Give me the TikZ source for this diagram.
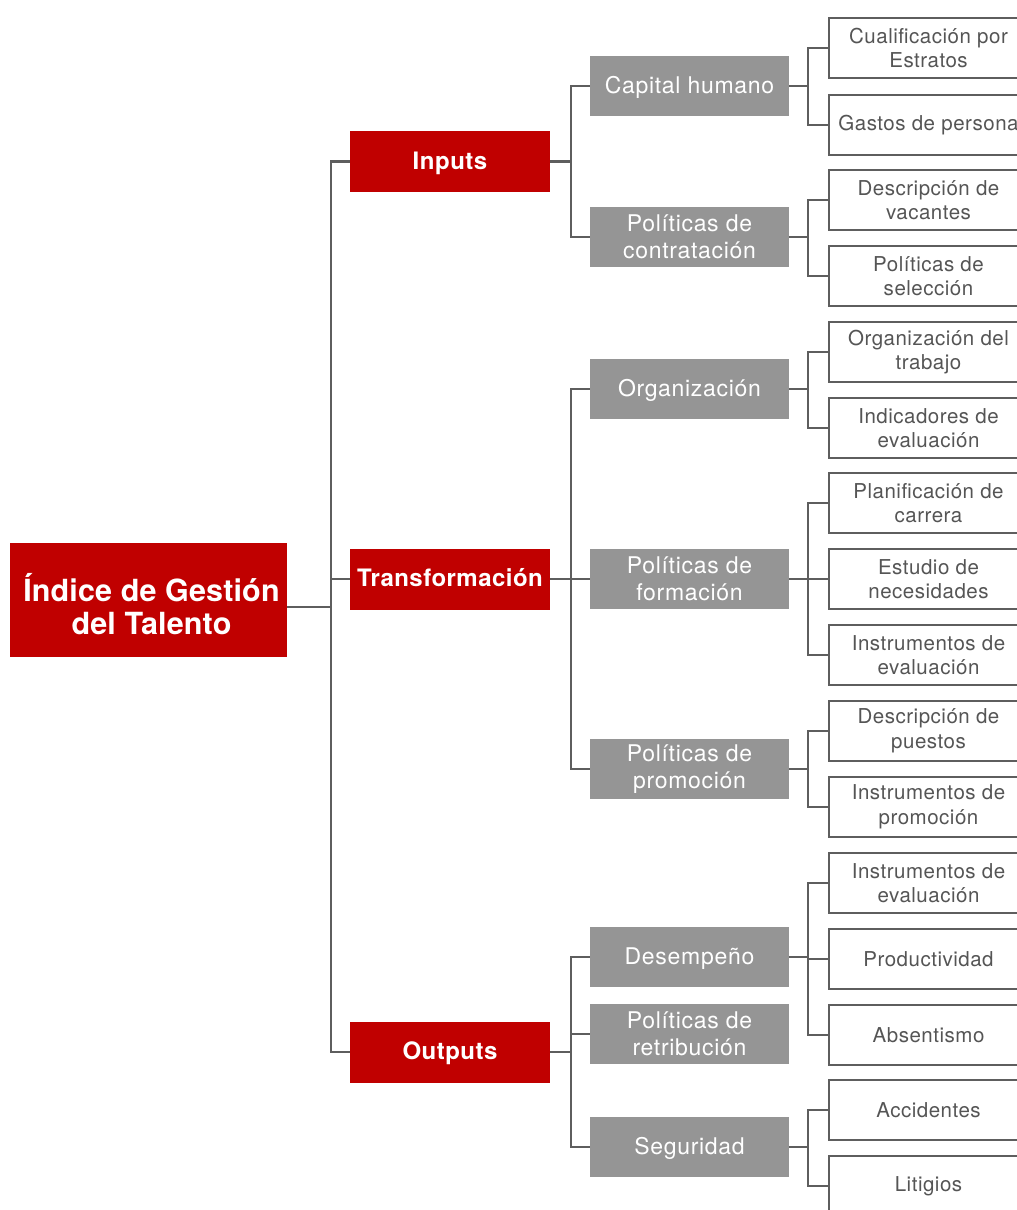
\documentclass[tikz,border=0pt]{standalone}
\usepackage{fontspec}
\setmainfont{TeX Gyre Heros}
\newfontfamily\leaffont[LetterSpace=2.5]{TeX Gyre Heros}
\newfontfamily\grayfont[LetterSpace=3]{TeX Gyre Heros}
\newfontfamily\redfont[LetterSpace=2]{TeX Gyre Heros}
\newfontfamily\rootfont[LetterSpace=0.5]{TeX Gyre Heros}
\definecolor{tred}{HTML}{C00000}
\definecolor{tgray}{HTML}{959595}
\definecolor{tline}{HTML}{5E5E5E}
\definecolor{ttext}{HTML}{555555}
\tikzset{
  rootbox/.style={fill=tred, text=white, minimum width=277pt, minimum height=114pt, inner sep=0pt, font=\rootfont\fontsize{30.5}{33}\selectfont\bfseries},
  lvlone/.style={fill=tred, text=white, minimum width=200pt, minimum height=61pt, inner sep=0pt, align=center, text height=18pt, text depth=3pt, font=\redfont\fontsize{24}{28}\selectfont\bfseries},
  lvltwo/.style={fill=tgray, text=white, minimum width=199pt, minimum height=60pt, inner sep=0pt, align=center, font=\grayfont\fontsize{23}{26.5}\selectfont},
  oneline/.style={text height=17pt, text depth=3pt},
  leafbox/.style={draw=tline, line width=2pt, fill=white, text=ttext, minimum width=199pt, minimum height=60pt, inner sep=0pt, align=center, font=\leaffont\fontsize{20.5}{24.5}\selectfont},
  conn/.style={draw=tline, line width=2.4pt},
  leafconn/.style={draw=tline, line width=2pt},
}
\begin{document}
\begin{tikzpicture}[x=1pt,y=-1pt]
\useasboundingbox (0,0) rectangle (1017,1210);
\clip (0,0) rectangle (1017,1210);
% root
\node[rootbox] (root) at (148.5,600) {\hspace{6pt}\raisebox{-15.5pt}[0pt][0pt]{\begin{tabular}{@{}c@{}}Índice de Gestión\\del Talento\end{tabular}}};
% level one
\node[lvlone] (inp) at (450,161.5) {Inputs};
\node[lvlone] (tra) at (450,579) {Transformación};
\node[lvlone] (out) at (450,1052) {Outputs};
% level two
\node[lvltwo, oneline] (cap) at (689.5,86) {Capital humano};
\node[lvltwo] (con) at (689.5,237) {Políticas de\\contratación};
\node[lvltwo, oneline] (org) at (689.5,389) {Organización};
\node[lvltwo] (for) at (689.5,579) {Políticas de\\formación};
\node[lvltwo] (pro) at (689.5,769) {Políticas de\\promoción};
\node[lvltwo, oneline] (des) at (689.5,957) {Desempeño};
\node[lvltwo] (ret) at (689.5,1034) {Políticas de\\retribución};
\node[lvltwo, oneline] (seg) at (689.5,1147) {Seguridad};
% leaves
\node[leafbox] (l1) at (928.5,48) {Cualificación por\\Estratos};
\node[leafbox] (l2) at (928.5,125) {Gastos de persona};
\node[leafbox] (l3) at (928.5,200) {Descripción de\\vacantes};
\node[leafbox] (l4) at (928.5,276) {Políticas de\\selección};
\node[leafbox] (l5) at (928.5,352) {Organización del\\trabajo};
\node[leafbox] (l6) at (928.5,428) {Indicadores de\\evaluación};
\node[leafbox] (l7) at (928.5,503) {Planificación de\\carrera};
\node[leafbox] (l8) at (928.5,579) {Estudio de\\necesidades};
\node[leafbox] (l9) at (928.5,655) {Instrumentos de\\evaluación};
\node[leafbox] (l10) at (928.5,731) {Descripción de\\puestos};
\node[leafbox] (l11) at (928.5,807) {Instrumentos de\\promoción};
\node[leafbox] (l12) at (928.5,883) {Instrumentos de\\evaluación};
\node[leafbox] (l13) at (928.5,959) {Productividad};
\node[leafbox] (l14) at (928.5,1035) {Absentismo};
\node[leafbox] (l15) at (928.5,1110) {Accidentes};
\node[leafbox] (l16) at (928.5,1186) {Litigios};
% root connectors
\foreach \c in {inp,tra,out}
  \draw[conn] (\c.west) -- ++(-19,0) |- ([yshift=-7pt]root.east);
% level one to level two
\foreach \c in {cap,con}
  \draw[conn] (\c.west) -- ++(-19,0) |- (inp.east);
\foreach \c in {org,for,pro}
  \draw[conn] (\c.west) -- ++(-19,0) |- (tra.east);
\foreach \c in {des,ret,seg}
  \draw[conn] (\c.west) -- ++(-19,0) |- (out.east);
% level two to leaves
\foreach \p/\c in {cap/l1,cap/l2,con/l3,con/l4,org/l5,org/l6,for/l7,for/l8,for/l9,pro/l10,pro/l11,des/l12,des/l13,des/l14,seg/l15,seg/l16}
  \draw[leafconn] (\c.west) -- ++(-20,0) |- (\p.east);
\end{tikzpicture}
\end{document}
